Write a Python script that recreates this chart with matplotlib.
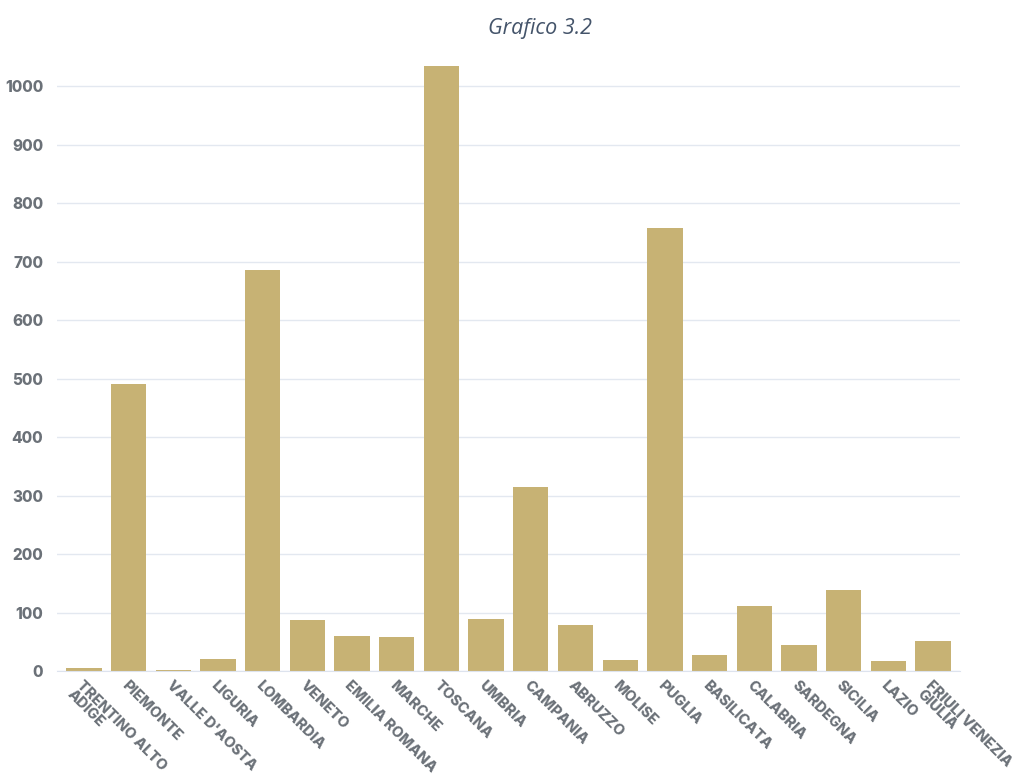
import matplotlib.pyplot as plt

regioni = ['TRENTINO ALTO\nADIGE', 'PIEMONTE', "VALLE D'AOSTA", 'LIGURIA', 'LOMBARDIA',
           'VENETO', 'EMILIA ROMANA', 'MARCHE', 'TOSCANA', 'UMBRIA', 'CAMPANIA',
           'ABRUZZO', 'MOLISE', 'PUGLIA', 'BASILICATA', 'CALABRIA', 'SARDEGNA',
           'SICILIA', 'LAZIO', 'FRIULI VENEZIA\nGIULIA']
valori = [5, 490, 2, 20, 685, 87, 60, 58, 1034, 89, 315, 79, 19, 757, 27, 111, 44, 138, 17, 51]
y_ticks = list(range(0, 1001, 100))

plt.rcParams['font.family'] = ['Inter', 'DejaVu Sans']

fig = plt.figure(figsize=(10.3, 7.76), dpi=100)
ax = fig.add_axes([0.0553, 0.1353, 0.8767, 0.7912])

x = range(len(regioni))
ax.bar(x, valori, width=0.79, color='#c7b274', zorder=3)

ax.set_xlim(-0.604, len(regioni) - 1 + 0.604)
ax.set_ylim(0, 1050)
ax.set_yticks(y_ticks)
ax.set_yticklabels([str(v) for v in y_ticks], fontsize=11, fontweight='heavy', color='#6b7178')
ax.set_xticks(list(x))
ax.set_xticklabels(regioni, rotation=-45, ha='left', va='top', rotation_mode='anchor',
                   fontsize=10.5, fontweight='heavy', color='#6b7178', linespacing=0.9)
ax.tick_params(axis='both', length=0)
ax.tick_params(axis='y', pad=10)
ax.tick_params(axis='x', pad=5)

ax.grid(axis='y', color='#e3e8f0', linewidth=1, zorder=0)
for s in ['top', 'right', 'left']:
    ax.spines[s].set_visible(False)
ax.spines['bottom'].set_color('#dde3ee')
ax.spines['bottom'].set_zorder(4)

fig.text(0.524, 0.963, 'Grafico 3.2', ha='center', va='center', fontsize=15.5,
         style='italic', color='#44546a', family='Open Sans')

fig.savefig('out.png', dpi=100)
